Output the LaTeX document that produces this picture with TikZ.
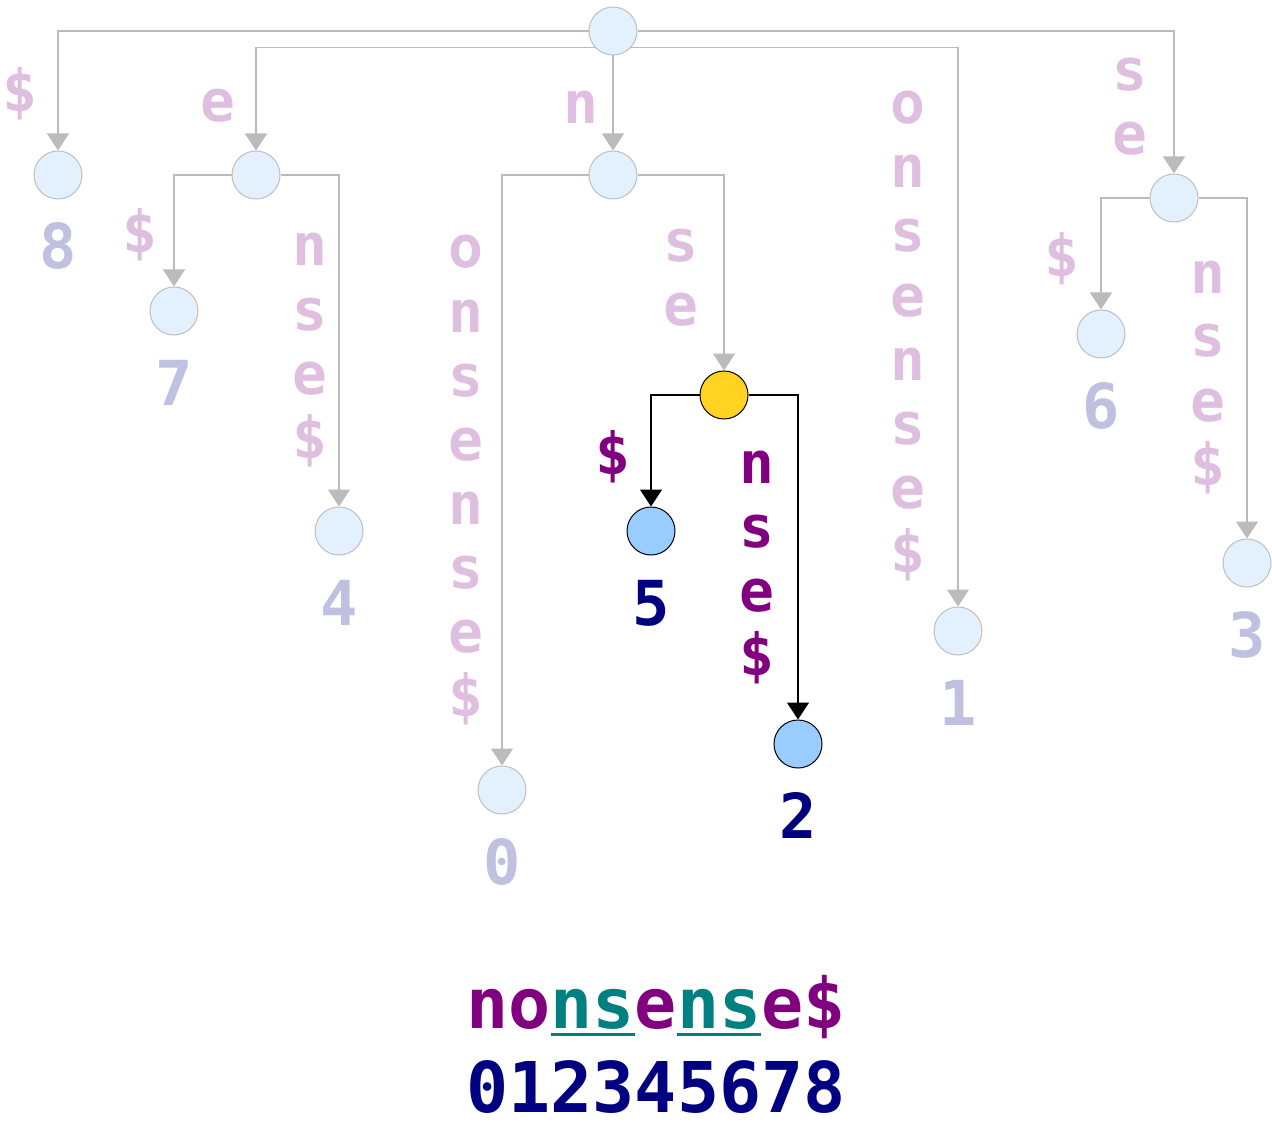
\documentclass[tikz,border=0pt]{standalone}
\usepackage{fontspec}
\newfontfamily\monofnt{DejaVu Sans Mono}
\usetikzlibrary{arrows.meta,positioning,calc}
\definecolor{edgegray}{HTML}{BBBBBB}
\definecolor{nodeline}{HTML}{BFBFBF}
\definecolor{nodefill}{HTML}{E3F0FD}
\definecolor{hitblue}{HTML}{99CCFF}
\definecolor{sunyellow}{HTML}{FFD320}
\definecolor{labpink}{HTML}{DFBFDF}
\definecolor{numlav}{HTML}{C0C0E0}
\definecolor{wordpurple}{HTML}{800080}
\definecolor{wordteal}{HTML}{008080}
\definecolor{idxnavy}{HTML}{000080}
% one letter per row, going down
\newcommand\vword[5]{\foreach \lt [count=\i from 0] in {#5}
  \node[#4,anchor=base] (#1-\i) at (#2,{#3+64*\i}) {\lt};}
\newcommand\tealul[1]{\textcolor{wordteal}{\setbox0\hbox{#1}\rlap{\rule[-4pt]{\wd0}{1.6pt}}\box0}}

\begin{document}
\begin{tikzpicture}[x=0.5pt,y=-0.5pt,
  nd/.style={circle,draw=nodeline,fill=nodefill,minimum size=24pt,inner sep=0pt,line width=0.5pt},
  hit/.style={nd,draw=black,fill=hitblue},
  ge/.style={-{Triangle[width=11pt,length=8.5pt]},edgegray,line width=0.7pt},
  be/.style={-{Triangle[width=11pt,length=8.5pt]},black,line width=0.6pt},
  lab/.style={font=\monofnt\bfseries\fontsize{29}{32}\selectfont,text=labpink,inner sep=0pt},
  num/.style={font=\monofnt\bfseries\fontsize{31}{34}\selectfont,text=numlav,inner sep=0pt,anchor=base}]
\useasboundingbox (0,0) rectangle (1272,1128);

% tree nodes
\node[nd] (root) at (613,31) {};
\node[nd] (n8) at (58,175) {};
\node[nd] (ne) at (256,175) {};
\node[nd] (n7) at (174,311) {};
\node[nd] (n4) at (339,531) {};
\node[nd] (nn) at (613,175) {};
\node[nd] (n0) at (502,790) {};
\node[nd,draw=black,fill=sunyellow] (nns) at (724,395) {};
\node[hit] (n5) at (651,531) {};
\node[hit] (n2) at (798,744) {};
\node[nd] (n1) at (958,631) {};
\node[nd] (nse) at (1174,198) {};
\node[nd] (n6) at (1101,334) {};
\node[nd] (n3) at (1247,563) {};

% leaf numbers
\foreach \k in {8,7,4,0,1,6,3} \node[num] (t\k) at ($(n\k)+(0,94)$) {\k};
\foreach \k in {5,2} \node[num,text=idxnavy] (t\k) at ($(n\k)+(0,94)$) {\k};

% edges
\draw[ge] (root.west) -| (n8);
\draw[ge] (root.222) -| (ne);
\draw[ge] (root) -- (nn);
\draw[ge] (root.-42) -| (n1);
\draw[ge] (root.east) -| (nse);
\draw[ge] (ne.west) -| (n7);
\draw[ge] (ne.east) -| (n4);
\draw[ge] (nn.west) -| (n0);
\draw[ge] (nn.east) -| (nns);
\draw[be] (nns.west) -| (n5);
\draw[be] (nns.east) -| (n2);
\draw[ge] (nse.west) -| (n6);
\draw[ge] (nse.east) -| (n3);

% edge labels
\node[lab,anchor=base] (l8) at (20,112) {\$};
\node[lab,anchor=base] (le) at (218,122) {e};
\node[lab,anchor=base] (ln) at (581,124) {n};
\vword{l1}{908}{124}{lab}{o,n,s,e,n,s,e,\$}
\vword{lse}{1130}{91}{lab}{s,e}
\node[lab,anchor=base] (l7) at (140,253) {\$};
\vword{l4}{310}{266}{lab}{n,s,e,\$}
\vword{l0}{466}{268}{lab}{o,n,s,e,n,s,e,\$}
\vword{lns}{681}{262}{lab}{s,e}
\node[lab,anchor=base,text=wordpurple] (l5) at (613,474) {\$};
\vword{l2}{757}{483}{lab,text=wordpurple}{n,s,e,\$}
\node[lab,anchor=base] (l6) at (1062,277) {\$};
\vword{l3}{1208}{293}{lab}{n,s,e,\$}

% the string and its positions
\node[inner sep=0pt,anchor=base,font=\monofnt\bfseries\fontsize{35}{40}\selectfont] (word) at (656,1028)
 {\textcolor{wordpurple}{no}\tealul{ns}\textcolor{wordpurple}{e}\tealul{ns}\textcolor{wordpurple}{e\$}};
\node[inner sep=0pt,anchor=base,font=\monofnt\bfseries\fontsize{35}{40}\selectfont,text=idxnavy] (idx) at (656,1112) {012345678};
\end{tikzpicture}
\end{document}
